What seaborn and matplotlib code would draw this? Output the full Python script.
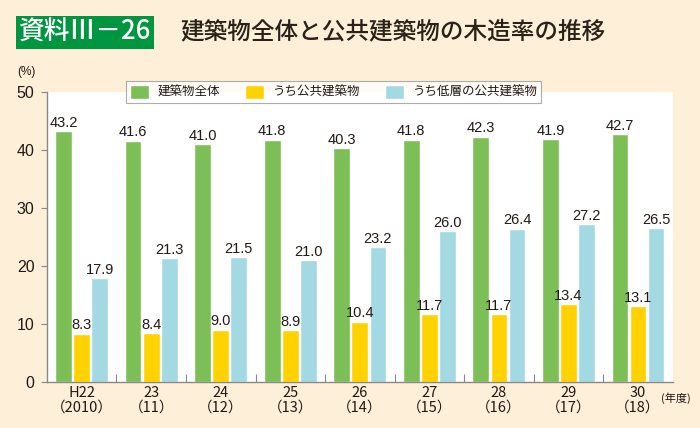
import matplotlib
matplotlib.use("Agg")

import pandas as pd
import matplotlib.pyplot as plt
import seaborn as sns

years = ["H22\n（2010）", "23\n（11）", "24\n（12）", "25\n（13）", "26\n（14）",
         "27\n（15）", "28\n（16）", "29\n（17）", "30\n（18）"]
series = ["建築物全体", "うち公共建築物", "うち低層の公共建築物"]
zentai = [43.2, 41.6, 41.0, 41.8, 40.3, 41.8, 42.3, 41.9, 42.7]
kokyo = [8.3, 8.4, 9.0, 8.9, 10.4, 11.7, 11.7, 13.4, 13.1]
teiso = [17.9, 21.3, 21.5, 21.0, 23.2, 26.0, 26.4, 27.2, 26.5]
colors = ["#7dbf57", "#ffd200", "#a3d9e3"]

bg = "#fdefd8"
txt = "#231815"

df = pd.DataFrame({
    "year": years * 3,
    "series": [series[0]] * 9 + [series[1]] * 9 + [series[2]] * 9,
    "value": zentai + kokyo + teiso,
})

sns.set_theme(style="white")
plt.rcParams["font.family"] = ["Liberation Sans", "Noto Sans CJK JP", "DejaVu Sans"]

fig = plt.figure(figsize=(7, 4.28), dpi=100, facecolor=bg)
ax = fig.add_axes([0.067, 0.1075, 0.894, 0.6775])
ax.set_facecolor("white")

sns.barplot(data=df, x="year", y="value", hue="series", palette=colors,
            width=0.78, gap=0.08, ax=ax, legend=False, saturation=1)

for c in ax.containers:
    ax.bar_label(c, fmt="%.1f", padding=1, fontsize=10.5, color=txt)

ax.set_ylim(0, 50)
ax.set_xlim(-0.5, 8.5)
ax.set_yticks([0, 10, 20, 30, 40, 50])
ax.set_xlabel("")
ax.set_ylabel("")
ax.tick_params(axis="y", length=4, width=0.8, color="#888888", labelsize=11.5,
               labelcolor=txt, pad=5, left=True)
ax.set_xticks(range(9))
ax.set_xticklabels(years, family=["Noto Sans CJK JP"], fontsize=10.5, color=txt,
                   linespacing=1.05)
ax.tick_params(axis="x", length=0, pad=3)
# small ticks between year groups
ax.set_xticks([i + 0.5 for i in range(8)], minor=True)
ax.tick_params(axis="x", which="minor", direction="in", length=6, width=0.8,
               color="#888888", bottom=True)

for s in ["top", "right"]:
    ax.spines[s].set_visible(False)
for s in ["left", "bottom"]:
    ax.spines[s].set_color("#888888")
    ax.spines[s].set_linewidth(1)

fig.text(0.038, 0.825, "(%)", fontsize=8.5, color=txt, ha="center")
fig.text(0.945, 0.062, "(年度)", fontsize=8, color=txt, ha="left",
         family=["Noto Sans CJK JP"])

# title
fig.text(0.027, 0.925, "資料Ⅲ－26", fontsize=18.5, color="white", va="center",
         family=["Noto Sans CJK JP"], fontweight="medium",
         bbox=dict(boxstyle="square,pad=0.12", facecolor="#00953f",
                   edgecolor="none"))
fig.text(0.257, 0.925, "建築物全体と公共建築物の木造率の推移", fontsize=17,
         color="#2b2118", va="center", family=["Noto Sans CJK JP"],
         fontweight="medium")

handles = [plt.Rectangle((0, 0), 1, 1, facecolor=c) for c in colors]
leg = fig.legend(handles, series, loc="center", bbox_to_anchor=(0.477, 0.785),
                 ncol=3, frameon=True, fancybox=False,
                 handlelength=1.5, handleheight=1.3, columnspacing=2.0,
                 handletextpad=0.7, borderpad=0.3,
                 prop={"family": ["Noto Sans CJK JP"], "size": 9})
leg.get_frame().set_edgecolor("#999999")
leg.get_frame().set_linewidth(0.8)
for t in leg.get_texts():
    t.set_color(txt)

fig.savefig("out.png", dpi=100, facecolor=bg)
